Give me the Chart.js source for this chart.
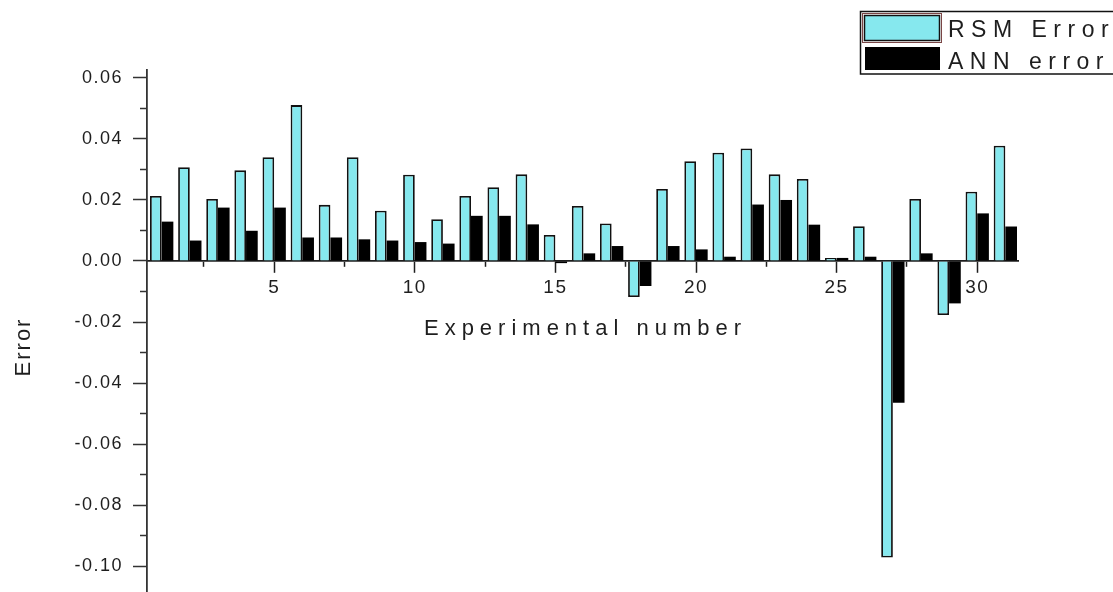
<!DOCTYPE html>
<html>
<head>
<meta charset="utf-8">
<title>RSM and ANN error by experiment</title>
<script src="https://cdn.jsdelivr.net/npm/chart.js@4.4.1/dist/chart.umd.min.js"></script>
<style>
  html, body { margin: 0; padding: 0; background: #ffffff; }
  #wrap { width: 1113px; height: 592px; position: relative; }
</style>
</head>
<body>
<div id="wrap"><canvas id="errChart" width="1113" height="592"></canvas></div>
<script>
// Experiment numbers and the prediction error of each model
const experimentNo = [1, 2, 3, 4, 5, 6, 7, 8, 9, 10, 11, 12, 13, 14, 15, 16,
                      17, 18, 19, 20, 21, 22, 23, 24, 25, 26, 27, 28, 29, 30, 31];
const rsmError = [0.0213, 0.0307, 0.0203, 0.0297, 0.0340, 0.0511, 0.0184, 0.0340,
                  0.0165, 0.0283, 0.0137, 0.0213, 0.0242, 0.0284, 0.0085, 0.0180,
                  0.0123, -0.0118, 0.0236, 0.0327, 0.0355, 0.0369, 0.0284, 0.0269,
                  0.0010, 0.0114, -0.0972, 0.0203, -0.0177, 0.0227, 0.0378];
const annError = [0.0129, 0.0067, 0.0175, 0.0099, 0.0175, 0.0077, 0.0077, 0.0071,
                  0.0067, 0.0062, 0.0057, 0.0148, 0.0148, 0.0120, -0.0007, 0.0025,
                  0.0049, -0.0082, 0.0049, 0.0038, 0.0014, 0.0185, 0.0200, 0.0119,
                  0.0010, 0.0014, -0.0465, 0.0025, -0.0139, 0.0156, 0.0113];
const seriesNames = ['RSM Error', 'ANN error'];

// Tick positions: labelled majors plus unlabelled minors in between
const xTickValues = [2.5, 5, 7.5, 10, 12.5, 15, 17.5, 20, 22.5, 25, 27.5, 30];
const yTickValues = [-0.10, -0.09, -0.08, -0.07, -0.06, -0.05, -0.04, -0.03, -0.02,
                     -0.01, 0.00, 0.01, 0.02, 0.03, 0.04, 0.05, 0.06];

const xTitle = 'Experimental number';
const yTitle = 'Error';

const FONT = "'Liberation Sans', Arial, Helvetica, sans-serif";
const INK = '#1e1e1e';
const CYAN = '#86e8ee';

const isMajorX = v => Math.abs(v / 5 - Math.round(v / 5)) < 1e-6;
const isMajorY = v => Math.round(v * 100) % 2 === 0;

// Spread tick label letters a little, as in the original plot
const labelSpacing = {
  id: 'labelSpacing',
  beforeDraw(chart) { chart.ctx.letterSpacing = '1.5px'; }
};

// Axis titles and the framed legend in the upper right corner
const annotations = {
  id: 'annotations',
  afterDraw(chart) {
    const ctx = chart.ctx;
    const area = chart.chartArea;
    const zeroY = chart.scales.y.getPixelForValue(0);
    ctx.save();
    ctx.fillStyle = INK;
    ctx.textBaseline = 'alphabetic';
    ctx.textAlign = 'left';

    // x title, sitting under the tick labels of the zero line
    ctx.font = '22px ' + FONT;
    ctx.letterSpacing = '6px';
    let w = ctx.measureText(xTitle).width - 6;
    ctx.fillText(xTitle, (area.left + area.right) / 2 - w / 2, zeroY + 74);

    // y title, rotated
    ctx.save();
    ctx.translate(22, 348);
    ctx.rotate(-Math.PI / 2);
    ctx.font = '22px ' + FONT;
    ctx.letterSpacing = '2px';
    w = ctx.measureText(yTitle).width - 2;
    ctx.fillText(yTitle, -w / 2, 8);
    ctx.restore();

    // legend frame
    const ds = chart.data.datasets;
    ctx.strokeStyle = '#111111';
    ctx.lineWidth = 1.5;
    ctx.strokeRect(860.5, 11.5, 262, 62.5);

    // first swatch: outlined cyan patch
    ctx.strokeStyle = '#7a4646';
    ctx.lineWidth = 1;
    ctx.strokeRect(862.5, 13.5, 79, 29);
    ctx.fillStyle = ds[0].backgroundColor;
    ctx.fillRect(864.5, 15.5, 75, 25);
    ctx.strokeStyle = '#111111';
    ctx.lineWidth = 1.5;
    ctx.strokeRect(864.5, 15.5, 75, 25);

    // second swatch: solid black patch
    ctx.fillStyle = ds[1].backgroundColor;
    ctx.fillRect(865, 47, 75, 23);

    ctx.fillStyle = INK;
    ctx.font = '23px ' + FONT;
    ctx.letterSpacing = '6.5px';
    ctx.fillText(ds[0].label, 948, 37);
    ctx.fillText(ds[1].label, 948, 68.5);
    ctx.restore();
  }
};

const toPoints = values => experimentNo.map((n, i) => ({ x: n, y: values[i] }));

new Chart(document.getElementById('errChart'), {
  type: 'bar',
  data: {
    datasets: [
      {
        label: seriesNames[0],
        data: toPoints(rsmError),
        backgroundColor: CYAN,
        borderColor: '#111111',
        borderWidth: 1.8,
        borderSkipped: 'start',
        categoryPercentage: 0.83,
        barPercentage: 1.0
      },
      {
        label: seriesNames[1],
        data: toPoints(annError),
        backgroundColor: '#000000',
        borderColor: '#000000',
        borderWidth: 0,
        categoryPercentage: 0.83,
        barPercentage: 1.0
      }
    ]
  },
  options: {
    responsive: false,
    animation: false,
    events: [],
    layout: { padding: { top: 70, right: 95, bottom: 0, left: 0 } },
    plugins: {
      legend: { display: false },
      tooltip: { enabled: false },
      title: { display: false }
    },
    scales: {
      x: {
        type: 'linear',
        position: { y: 0 },
        offset: false,
        min: 0.478,
        max: 31.45,
        z: 1,
        afterBuildTicks: s => { s.ticks = xTickValues.map(v => ({ value: v })); },
        afterFit: s => { s.paddingLeft = 0; s.paddingRight = 0; },
        ticks: {
          autoSkip: false,
          maxRotation: 0,
          padding: 4,
          color: INK,
          font: { family: FONT, size: 19 },
          callback: v => (isMajorX(v) ? String(Math.round(v)) : '')
        },
        grid: {
          offset: false,
          drawOnChartArea: false,
          drawTicks: true,
          tickLength: 11,
          tickWidth: 1.5,
          tickColor: INK,
          tickBorderDash: [11, 11],
          tickBorderDashOffset: c => (c.tick && !isMajorX(c.tick.value) ? 6 : 0)
        },
        border: { display: true, color: INK, width: 1.8 }
      },
      y: {
        type: 'linear',
        position: 'left',
        min: -0.1085,
        max: 0.0626,
        afterBuildTicks: s => { s.ticks = yTickValues.map(v => ({ value: v })); },
        afterFit: s => { s.width = 147; s.paddingTop = 0; s.paddingBottom = 0; },
        ticks: {
          autoSkip: false,
          padding: 10,
          color: INK,
          font: { family: FONT, size: 18 },
          callback: v => (isMajorY(v) ? v.toFixed(2) : '')
        },
        grid: {
          drawOnChartArea: false,
          drawTicks: true,
          tickLength: 14,
          tickWidth: 1.5,
          tickColor: '#333333',
          tickBorderDash: [14, 7],
          tickBorderDashOffset: c => (c.tick && !isMajorY(c.tick.value) ? 14 : 0)
        },
        border: { display: true, color: '#333333', width: 1.8 }
      }
    }
  },
  plugins: [labelSpacing, annotations]
});
</script>
</body>
</html>
